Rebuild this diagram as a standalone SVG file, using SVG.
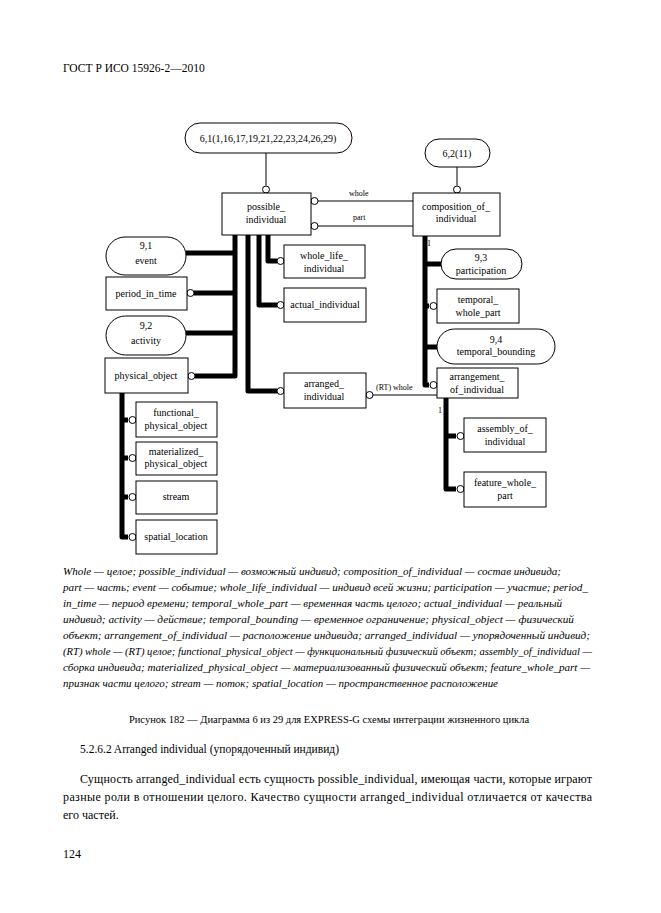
<svg xmlns="http://www.w3.org/2000/svg" width="661" height="913" viewBox="0 0 661 913">
<style>
text{font-family:"Liberation Serif","DejaVu Serif",serif;fill:#000}
.n{font-size:10px;text-anchor:middle}
.s{font-size:8px}
.box{fill:#fff;stroke:#000;stroke-width:1}
.thick{fill:none;stroke:#000;stroke-width:5;stroke-linejoin:round;stroke-linecap:butt}
.thin{fill:none;stroke:#000;stroke-width:1}
.c{fill:#fff;stroke:#000;stroke-width:1}
.cap{font-size:9.4px;font-style:italic}
.body{font-size:12px}
</style>
<rect width="661" height="913" fill="#fff"/>
<text x="63" y="72" style="font-size:11.5px">ГОСТ Р ИСО 15926-2—2010</text>

<g id="connectors">
<line class="thin" x1="266" y1="153" x2="266" y2="185.5"/>
<line class="thin" x1="457" y1="167" x2="457" y2="185.5"/>
<line class="thin" x1="318" y1="201" x2="413" y2="201"/>
<line class="thin" x1="318" y1="226" x2="413" y2="226"/>
<text class="s" x="349" y="196">whole</text>
<text class="s" x="353" y="220">part</text>
<path class="thick" d="M235 235 V376 H195"/>
<line class="thick" x1="235" y1="253" x2="186" y2="253"/>
<line class="thick" x1="235" y1="293" x2="194" y2="293"/>
<line class="thick" x1="235" y1="333" x2="186" y2="333"/>
<path class="thick" d="M248 235 V391 H277"/>
<path class="thick" d="M259 235 V305 H277"/>
<path class="thick" d="M268 235 V261 H277"/>
<path class="thick" d="M425 236 V385 H429"/>
<line class="thick" x1="425" y1="264" x2="441" y2="264"/>
<line class="thick" x1="425" y1="306" x2="429" y2="306"/>
<line class="thick" x1="425" y1="347" x2="438" y2="347"/>
<path class="thick" d="M446 398 V489 H456"/>
<line class="thick" x1="446" y1="436" x2="456" y2="436"/>
<path class="thick" d="M122 393 V537 H128"/>
<line class="thick" x1="122" y1="420" x2="128" y2="420"/>
<line class="thick" x1="122" y1="458" x2="128" y2="458"/>
<line class="thick" x1="122" y1="497" x2="128" y2="497"/>
<line class="thin" x1="373" y1="395" x2="437" y2="395"/>
<text class="s" x="376" y="390">(RT) whole</text>
<text class="s" x="427" y="246">1</text>
<text class="s" x="438" y="413">1</text>
<circle class="c" cx="266" cy="189.5" r="3.5"/>
<circle class="c" cx="457" cy="189.5" r="3.5"/>
<circle class="c" cx="314.5" cy="201" r="3.5"/>
<circle class="c" cx="314.5" cy="226" r="3.5"/>
<circle class="c" cx="190.5" cy="293" r="3.5"/>
<circle class="c" cx="191.5" cy="376" r="3.5"/>
<circle class="c" cx="280.5" cy="261" r="3.5"/>
<circle class="c" cx="280.5" cy="305" r="3.5"/>
<circle class="c" cx="280.5" cy="391" r="3.5"/>
<circle class="c" cx="369.5" cy="395" r="3.5"/>
<circle class="c" cx="433.5" cy="306" r="3.5"/>
<circle class="c" cx="433.5" cy="385" r="3.5"/>
<circle class="c" cx="460.5" cy="436" r="3.5"/>
<circle class="c" cx="460.5" cy="489" r="3.5"/>
<circle class="c" cx="132.5" cy="420" r="3.5"/>
<circle class="c" cx="132.5" cy="458" r="3.5"/>
<circle class="c" cx="132.5" cy="497" r="3.5"/>
<circle class="c" cx="132.5" cy="537" r="3.5"/>
</g>

<g id="ref_6_1"><rect class="box" x="185" y="123" width="167" height="30" rx="15"/><text class="n" x="268" y="142">6,1(1,16,17,19,21,22,23,24,26,29)</text></g>
<g id="ref_6_2"><rect class="box" x="425" y="139" width="65" height="28" rx="14"/><text class="n" x="457" y="157">6,2(11)</text></g>
<g id="possible_individual"><rect class="box" x="222" y="193" width="89" height="42"/><text class="n" x="266" y="210">possible_</text><text class="n" x="266" y="223">individual</text></g>
<g id="composition_of_individual"><rect class="box" x="413" y="193" width="87" height="43"/><text class="n" x="456" y="210">composition_of_</text><text class="n" x="456" y="222">individual</text></g>
<g id="event"><rect class="box" x="106" y="237" width="80" height="38" rx="19"/><text class="n" x="146" y="249">9,1</text><text class="n" x="146" y="264">event</text></g>
<g id="period_in_time"><rect class="box" x="106" y="277" width="81" height="33"/><text class="n" x="146" y="297">period_in_time</text></g>
<g id="activity"><rect class="box" x="106" y="316" width="80" height="39" rx="19.5"/><text class="n" x="146" y="329">9,2</text><text class="n" x="146" y="344">activity</text></g>
<g id="physical_object"><rect class="box" x="105" y="358" width="83" height="35"/><text class="n" x="146" y="379">physical_object</text></g>
<g id="whole_life_individual"><rect class="box" x="284" y="245" width="81" height="33"/><text class="n" x="324" y="259">whole_life_</text><text class="n" x="324" y="272">individual</text></g>
<g id="actual_individual"><rect class="box" x="284" y="288" width="82" height="34"/><text class="n" x="325" y="308">actual_individual</text></g>
<g id="arranged_individual"><rect class="box" x="284" y="373" width="82" height="35"/><text class="n" x="324" y="387">arranged_</text><text class="n" x="324" y="400">individual</text></g>
<g id="participation"><rect class="box" x="441" y="249" width="81" height="30" rx="15"/><text class="n" x="481" y="261">9,3</text><text class="n" x="481" y="274">participation</text></g>
<g id="temporal_whole_part"><rect class="box" x="437" y="289" width="82" height="34"/><text class="n" x="478" y="303">temporal_</text><text class="n" x="478" y="316">whole_part</text></g>
<g id="temporal_bounding"><rect class="box" x="437" y="329" width="118" height="35" rx="17.5"/><text class="n" x="496" y="343">9,4</text><text class="n" x="496" y="355">temporal_bounding</text></g>
<g id="arrangement_of_individual"><rect class="box" x="437" y="368" width="81" height="30"/><text class="n" x="477" y="380">arrangement_</text><text class="n" x="477" y="393">of_individual</text></g>
<g id="assembly_of_individual"><rect class="box" x="464" y="418" width="82" height="34"/><text class="n" x="505" y="432">assembly_of_</text><text class="n" x="505" y="445">individual</text></g>
<g id="feature_whole_part"><rect class="box" x="464" y="472" width="82" height="35"/><text class="n" x="505" y="486">feature_whole_</text><text class="n" x="505" y="499">part</text></g>
<g id="functional_physical_object"><rect class="box" x="136" y="402" width="81" height="35"/><text class="n" x="176" y="416">functional_</text><text class="n" x="176" y="429">physical_object</text></g>
<g id="materialized_physical_object"><rect class="box" x="136" y="442" width="81" height="33"/><text class="n" x="176" y="455">materialized_</text><text class="n" x="176" y="467">physical_object</text></g>
<g id="stream"><rect class="box" x="136" y="481" width="81" height="33"/><text class="n" x="176" y="500">stream</text></g>
<g id="spatial_location"><rect class="box" x="136" y="520" width="81" height="34"/><text class="n" x="176" y="540">spatial_location</text></g>

<g id="caption">
<text class="cap" x="63" y="575" textLength="498" lengthAdjust="spacingAndGlyphs">Whole — целое; possible_individual — возможный индивид; composition_of_individual — состав индивида;</text>
<text class="cap" x="63" y="591" textLength="525" lengthAdjust="spacingAndGlyphs">part — часть; event — событие; whole_life_individual — индивид всей жизни; participation — участие; period_</text>
<text class="cap" x="63" y="607" textLength="499" lengthAdjust="spacingAndGlyphs">in_time — период времени; temporal_whole_part — временная часть целого; actual_individual — реальный</text>
<text class="cap" x="63" y="623" textLength="511" lengthAdjust="spacingAndGlyphs">индивид; activity — действие; temporal_bounding — временное ограничение; physical_object — физический</text>
<text class="cap" x="63" y="639" textLength="527" lengthAdjust="spacingAndGlyphs">объект; arrangement_of_individual — расположение индивида; arranged_individual — упорядоченный индивид;</text>
<text class="cap" x="63" y="655" textLength="529" lengthAdjust="spacingAndGlyphs">(RT) whole — (RT) целое; functional_physical_object — функциональный физический объект; assembly_of_individual —</text>
<text class="cap" x="63" y="671" textLength="527" lengthAdjust="spacingAndGlyphs">сборка индивида; materialized_physical_object — материализованный физический объект; feature_whole_part —</text>
<text class="cap" x="63" y="687" textLength="435" lengthAdjust="spacingAndGlyphs">признак части целого; stream — поток; spatial_location — пространственное расположение</text>
</g>
<text x="329" y="723" style="font-size:10.5px;text-anchor:middle">Рисунок 182 — Диаграмма 6 из 29 для EXPRESS-G схемы интеграции жизненного цикла</text>
<text x="80" y="753" style="font-size:11.5px">5.2.6.2 Arranged individual (упорядоченный индивид)</text>
<text class="body" x="80" y="783" textLength="512" lengthAdjust="spacing">Сущность arranged_individual есть сущность possible_individual, имеющая части, которые играют</text>
<text class="body" x="63" y="801" textLength="529" lengthAdjust="spacing">разные роли в отношении целого. Качество сущности arranged_individual отличается от качества</text>
<text class="body" x="63" y="819">его частей.</text>
<text x="63" y="858" style="font-size:12px">124</text>
</svg>
